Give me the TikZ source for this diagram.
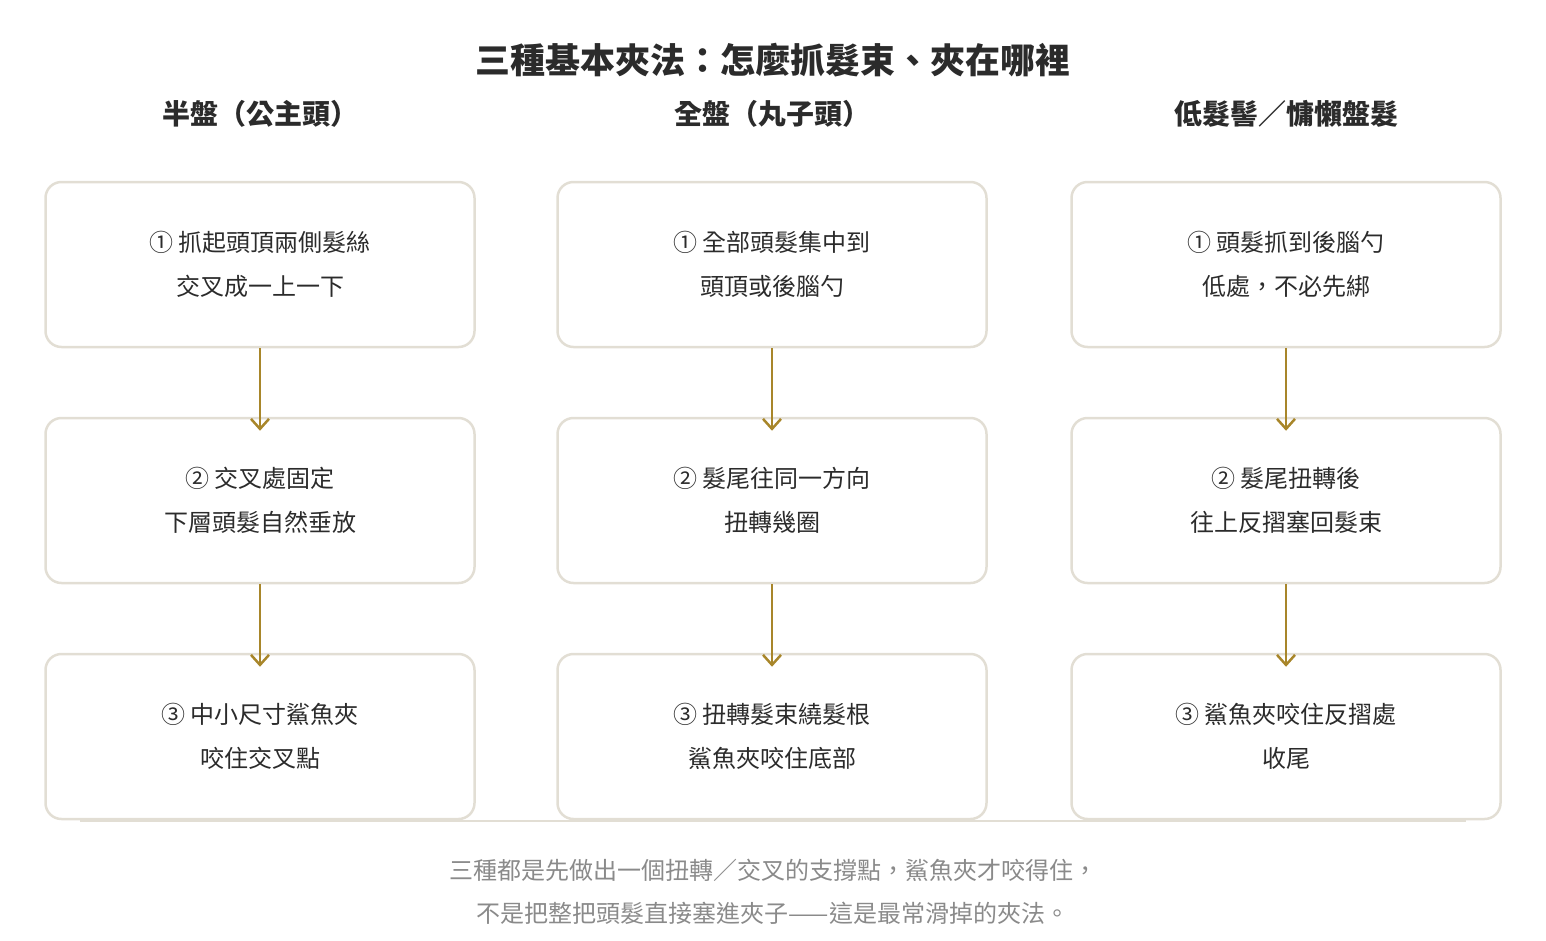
\documentclass[tikz,border=0pt]{standalone}
\usepackage{fontspec}
\setmainfont{Noto Sans CJK TC}
\usetikzlibrary{arrows.meta}
\definecolor{bx}{HTML}{E2DED4}
\definecolor{gold}{HTML}{A8862A}
\definecolor{ink}{HTML}{2B2B2B}
\definecolor{foot}{HTML}{8A8A8A}
\begin{document}
\begin{tikzpicture}[x=1pt,y=-1pt,
  box/.style={draw=bx,line width=2.5pt,rounded corners=16pt,minimum width=429pt,minimum height=165pt,align=center,font=\fontsize{24}{44}\selectfont,text=ink,inner sep=0pt},
  hd/.style={font=\fontsize{28}{32}\selectfont\bfseries,text=ink},
  arr/.style={draw=gold,line width=2.5pt,-{Straight Barb[length=10pt,width=18pt,line width=2.5pt]}}]
\useasboundingbox (0,0) rectangle (1546,940);
\node[font=\fontsize{35}{40}\selectfont\bfseries,text=ink] (title) at (773,60) {三種基本夾法：怎麼抓髮束、夾在哪裡};
\node[hd] (h1) at (260,114) {半盤（公主頭）};
\node[hd] (h2) at (772,114) {全盤（丸子頭）};
\node[hd] (h3) at (1286,114) {低髮髻／慵懶盤髮};
\node[box] (a1) at (260,264.5) {① 抓起頭頂兩側髮絲\\交叉成一上一下};
\node[box] (a2) at (260,500.5) {② 交叉處固定\\下層頭髮自然垂放};
\node[box] (a3) at (260,736.5) {③ 中小尺寸鯊魚夾\\咬住交叉點};
\node[box] (b1) at (772,264.5) {① 全部頭髮集中到\\頭頂或後腦勺};
\node[box] (b2) at (772,500.5) {② 髮尾往同一方向\\扭轉幾圈};
\node[box] (b3) at (772,736.5) {③ 扭轉髮束繞髮根\\鯊魚夾咬住底部};
\node[box] (c1) at (1286,264.5) {① 頭髮抓到後腦勺\\低處，不必先綁};
\node[box] (c2) at (1286,500.5) {② 髮尾扭轉後\\往上反摺塞回髮束};
\node[box] (c3) at (1286,736.5) {③ 鯊魚夾咬住反摺處\\收尾};
\foreach \p/\q in {a1/a2,a2/a3,b1/b2,b2/b3,c1/c2,c3/c3,c2/c3}{\ifx\p\q\else\draw[arr] (\p.south) -- ([yshift=-14pt]\q.north);\fi}
\coordinate (l1) at (80,821); \coordinate (l2) at (1466,821);
\draw[bx,line width=1.2pt] (l1) -- (l2);
\node[font=\fontsize{24}{43}\selectfont,text=foot,align=center] (ft) at (773,892) {三種都是先做出一個扭轉／交叉的支撐點，鯊魚夾才咬得住，\\不是把整把頭髮直接塞進夾子——這是最常滑掉的夾法。};
\end{tikzpicture}
\end{document}
